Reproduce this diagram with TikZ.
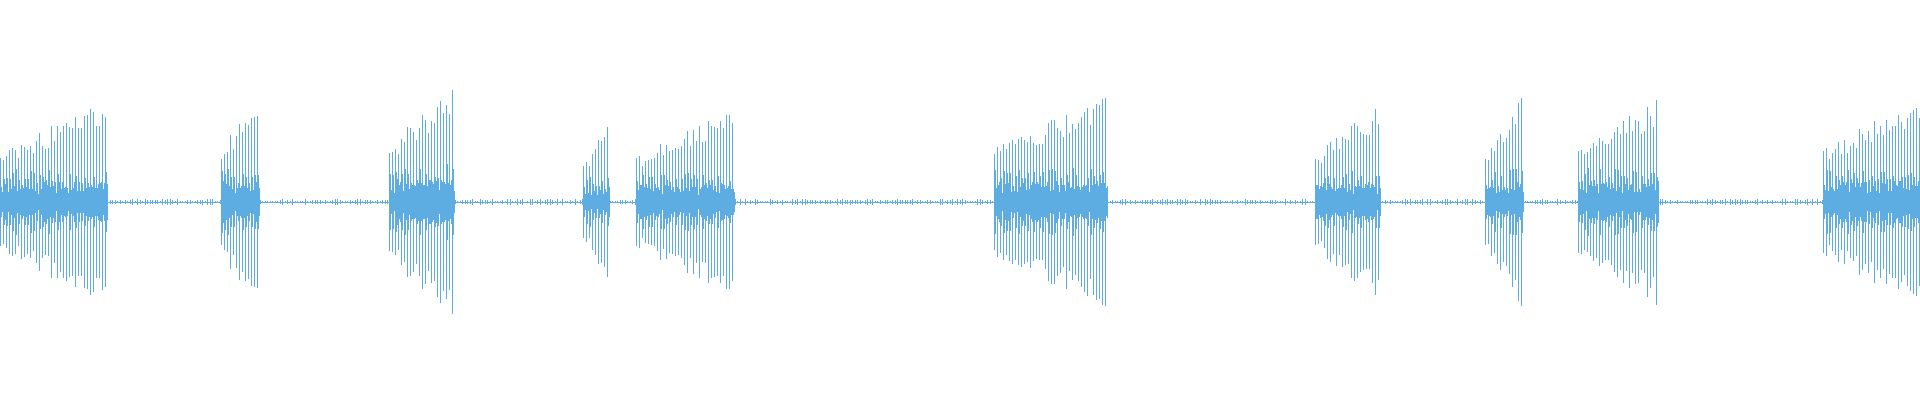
\documentclass[tikz,border=0pt]{standalone}
\definecolor{wave}{RGB}{93,173,226}
\newcommand\wburst[3]{%
  \pgfmathsetmacro\xa{#1*1.2245}\pgfmathsetmacro\xb{#2*1.2245}\pgfmathsetmacro\am{#3*1.2245}%
  \pgfmathsetmacro\xs{\xa+3}%
  \foreach \x in {\xa,\xs,...,\xb}{%
    \pgfmathsetmacro\t{(\x-\xa)/(\xb-\xa+0.01)}%
    \pgfmathsetmacro\a{\am*(0.5+0.5*\t)*(0.72+0.28*rnd)}%
    \pgfmathsetmacro\c{\am*(0.12+0.2*rnd)}%
    \pgfmathsetmacro\d{\am*(0.08+0.12*rnd)}%
    \draw[wavespike] (\x,198-\a) -- (\x,198+\a);
    \draw[wavespike] (\x+1,198-\c) -- (\x+1,198+\c);
    \draw[wavespike] (\x+2,198-\d) -- (\x+2,198+\d);
  }%
}
\begin{document}
\begin{tikzpicture}[x=1pt,y=1pt,wavespike/.style={draw=wave,line width=0.6pt}]
\useasboundingbox (0,0) rectangle (1920,400);
\pgfmathsetseed{7}
\draw[wave,line width=0.8pt] (0,198) -- (1920,198);
\foreach \x in {0,2.5,...,1920}{
  \pgfmathsetmacro\n{0.5+2.5*rnd}
  \draw[wavespike] (\x,198-\n) -- (\x,198+\n);
}
\wburst{0}{86}{84}
\wburst{181}{211}{88}
\wburst{318}{370}{96}
\wburst{476}{496}{66}
\wburst{520}{599}{76}
\wburst{812}{905}{90}
\wburst{1074}{1126}{80}
\wburst{1213}{1243}{86}
\wburst{1289}{1355}{86}
\wburst{1489}{1568}{88}
\end{tikzpicture}
\end{document}
